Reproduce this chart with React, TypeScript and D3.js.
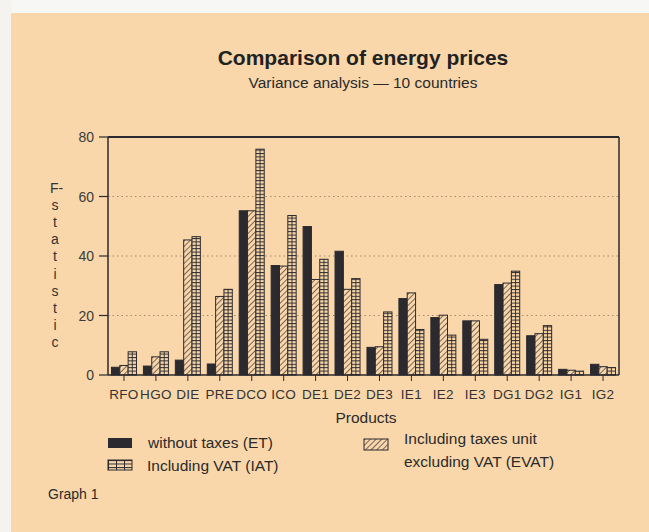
import React from "react";
import * as d3 from "d3";

const categories = ["RFO","HGO","DIE","PRE","DCO","ICO","DE1","DE2","DE3","IE1","IE2","IE3","DG1","DG2","IG1","IG2"];
const etValues = [2.6,3.0,5.0,3.7,55.2,36.8,49.9,41.6,9.3,25.7,19.3,18.2,30.4,13.2,1.9,3.6];
const evatValues = [3.2,6.1,45.4,26.4,55.2,36.6,32.1,28.8,9.5,27.6,20.1,18.2,30.9,13.9,1.6,2.8];
const iatValues = [7.8,7.8,46.5,28.8,75.9,53.6,38.9,32.4,21.2,15.3,13.4,12.0,34.9,16.6,1.3,2.5];
const seriesKeys = ["ET","EVAT","IAT"];
const yTicks = [0,20,40,60,80];
const gridTicks = [20,40,60];
const yLabelLetters = ["F-","s","t","a","t","i","s","t","i","c"];

const W = 649, H = 532;
const BG = "#F9D7AA";
const INK = "#2b2a2e";
const FONT = "'Liberation Sans', Arial, Helvetica, sans-serif";

export default function App() {
  const left = 108, right = 619, top = 137, bottom = 375;
  const x = d3.scaleBand<string>().domain(categories).range([left, right]).paddingInner(0).paddingOuter(0);
  const y = d3.scaleLinear().domain([0, 80]).range([bottom, top]);
  const groupW = 25;
  const xs = d3.scaleBand<string>().domain(seriesKeys).range([0, groupW]);
  const seriesData: Record<string, number[]> = { ET: etValues, EVAT: evatValues, IAT: iatValues };
  const fills: Record<string, string> = { ET: INK, EVAT: "url(#hatch)", IAT: "url(#hlines)" };

  return (
    <svg width={W} height={H} style={{ position: "absolute", left: 0, top: 0, display: "block" }} fontFamily={FONT}>
      <defs>
        <pattern id="hatch" patternUnits="userSpaceOnUse" width="4" height="4" patternTransform="rotate(45)">
          <rect width="4" height="4" fill={BG} />
          <line x1="0" y1="0" x2="0" y2="4" stroke={INK} strokeWidth="1.3" />
        </pattern>
        <pattern id="hlines" patternUnits="userSpaceOnUse" width="4" height="3.4">
          <rect width="4" height="3.4" fill={BG} />
          <line x1="0" y1="0.5" x2="4" y2="0.5" stroke={INK} strokeWidth="1" />
        </pattern>
        <pattern id="grid" patternUnits="userSpaceOnUse" x="108" y="460" width="8" height="3.5">
          <rect width="8" height="3.5" fill={BG} />
          <line x1="0" y1="0.5" x2="8" y2="0.5" stroke={INK} strokeWidth="1" />
          <line x1="0.5" y1="0" x2="0.5" y2="3.5" stroke={INK} strokeWidth="1" />
        </pattern>
      </defs>
      <rect x={0} y={0} width={W} height={H} fill={BG} />
      <rect x={0} y={0} width={W} height={13} fill="#f7f7f5" />
      <rect x={0} y={0} width={11} height={H} fill="#f5f3f0" />

      <text x={363} y={65} textAnchor="middle" fontSize={21} fontWeight="bold" fill="#222">Comparison of energy prices</text>
      <text x={363} y={88} textAnchor="middle" fontSize={15.5} fill="#2a2a2a">Variance analysis — 10 countries</text>

      {gridTicks.map(t => (
        <line key={"g" + t} x1={left} x2={right} y1={y(t)} y2={y(t)} stroke="#6b5a48" strokeWidth={1} strokeDasharray="1.5 3" opacity={0.6} />
      ))}

      {categories.map((c, i) => {
        const gx = (x(c) as number) + (x.bandwidth() - groupW) / 2;
        return (
          <g key={c}>
            {seriesKeys.map(k => {
              const v = seriesData[k][i];
              const bx = gx + (xs(k) as number);
              const bw = xs.bandwidth();
              return (
                <g key={k}>
                  <rect x={bx} y={y(v)} width={bw} height={y(0) - y(v)} fill={fills[k]} stroke={INK} strokeWidth={1} />
                  {k === "IAT" && (
                    <line x1={bx + bw / 2} x2={bx + bw / 2} y1={y(v)} y2={y(0)} stroke={INK} strokeWidth={0.9} />
                  )}
                </g>
              );
            })}
          </g>
        );
      })}

      <line x1={left} x2={right} y1={top} y2={top} stroke={INK} strokeWidth={2} />
      <line x1={right} x2={right} y1={top} y2={bottom} stroke={INK} strokeWidth={1.5} />
      <line x1={left} x2={left} y1={top} y2={bottom} stroke={INK} strokeWidth={1.5} />
      <line x1={left} x2={right} y1={bottom} y2={bottom} stroke={INK} strokeWidth={1.5} />

      {yTicks.map(t => (
        <g key={"y" + t}>
          <line x1={left - 9} x2={left} y1={y(t)} y2={y(t)} stroke={INK} strokeWidth={1.2} />
          <text x={94} y={y(t) + 5} textAnchor="end" fontSize={14} fill="#3a3a3a">{t}</text>
        </g>
      ))}

      {categories.map(c => {
        const cx = (x(c) as number) + x.bandwidth() / 2;
        return (
          <g key={"t" + c}>
            <line x1={cx} x2={cx} y1={bottom} y2={bottom + 6} stroke={INK} strokeWidth={1} />
            <text x={cx} y={399} textAnchor="middle" fontSize={13.5} letterSpacing={0.3} fill="#333">{c}</text>
          </g>
        );
      })}

      {yLabelLetters.map((l, i) => (
        <text key={"yl" + i} x={l === "F-" ? 50 : 55} y={193 + i * 17.1} textAnchor={l === "F-" ? "start" : "middle"} fontSize={14} fill="#333">{l}</text>
      ))}

      <text x={366} y={423} textAnchor="middle" fontSize={15.5} fill="#2a2a2a">Products</text>

      <rect x={108} y={438} width={24} height={10} fill={INK} />
      <text x={148} y={448} fontSize={15.5} fill="#2a2a2a">without taxes (ET)</text>
      <rect x={108} y={460} width={24} height={10} fill="url(#grid)" stroke={INK} strokeWidth={1} />
      <text x={147} y={471} fontSize={15.5} fill="#2a2a2a">Including VAT (IAT)</text>
      <rect x={364} y={439} width={24} height={11} fill="url(#hatch)" stroke={INK} strokeWidth={1} />
      <text x={404} y={444} fontSize={15.5} fill="#2a2a2a">Including taxes unit</text>
      <text x={404} y={467} fontSize={15.5} fill="#2a2a2a">excluding VAT (EVAT)</text>

      <text x={48} y={499} fontSize={14} fill="#2a2a2a">Graph 1</text>
    </svg>
  );
}
